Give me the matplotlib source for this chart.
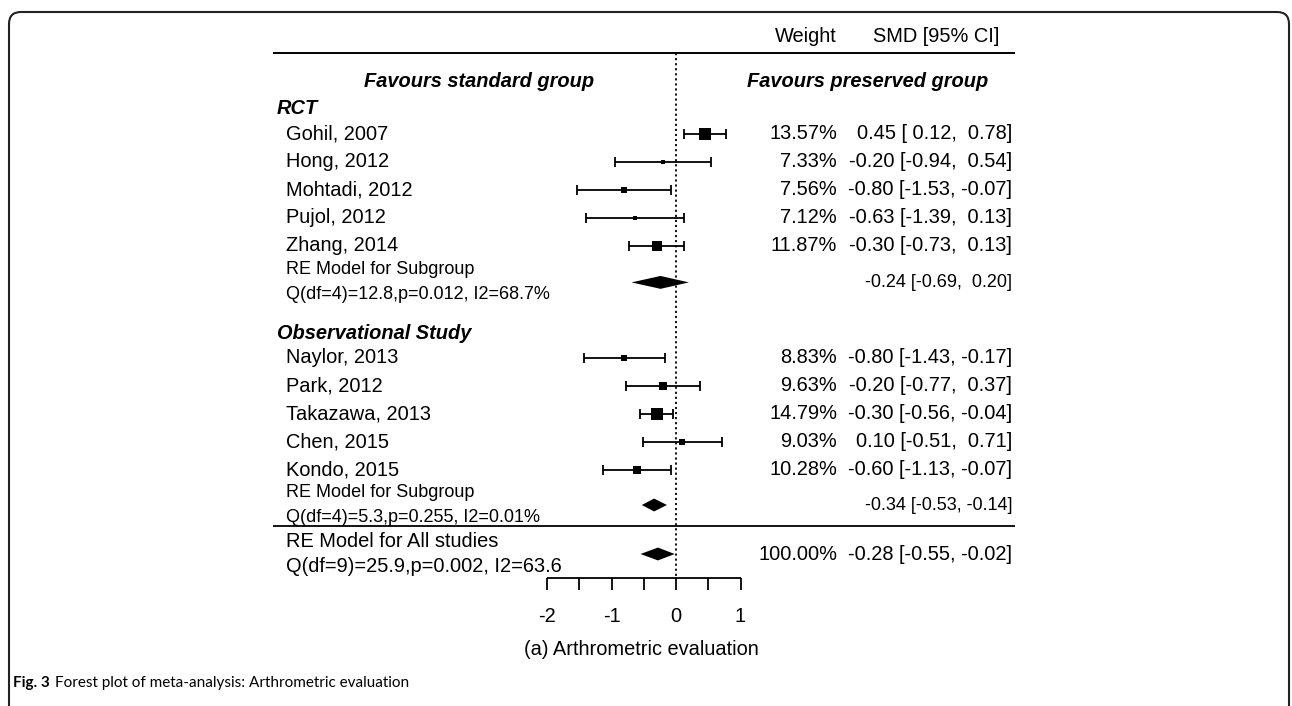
import matplotlib
matplotlib.use("Agg")
import matplotlib.pyplot as plt
from matplotlib.patches import FancyBboxPatch, Polygon

# ---------------- data ----------------
rct_studies = ["Gohil, 2007", "Hong, 2012", "Mohtadi, 2012", "Pujol, 2012", "Zhang, 2014"]
rct_smd = [0.45, -0.20, -0.80, -0.63, -0.30]
rct_lo = [0.12, -0.94, -1.53, -1.39, -0.73]
rct_hi = [0.78, 0.54, -0.07, 0.13, 0.13]
rct_w = [13.57, 7.33, 7.56, 7.12, 11.87]

obs_studies = ["Naylor, 2013", "Park, 2012", "Takazawa, 2013", "Chen, 2015", "Kondo, 2015"]
obs_smd = [-0.80, -0.20, -0.30, 0.10, -0.60]
obs_lo = [-1.43, -0.77, -0.56, -0.51, -1.13]
obs_hi = [-0.17, 0.37, -0.04, 0.71, -0.07]
obs_w = [8.83, 9.63, 14.79, 9.03, 10.28]

group_names = ["RCT", "Observational Study"]
sub_est = [-0.24, -0.34]
sub_lo = [-0.69, -0.53]
sub_hi = [0.20, -0.14]
sub_het = ["Q(df=4)=12.8,p=0.012, I2=68.7%", "Q(df=4)=5.3,p=0.255, I2=0.01%"]

all_est = -0.28
all_lo = -0.55
all_hi = -0.02
all_w = 100.00
all_het = "Q(df=9)=25.9,p=0.002, I2=63.6"

xticks = [-2, -1.5, -1, -0.5, 0, 0.5, 1]
xticklabels = ["-2", "", "-1", "", "0", "", "1"]

# ---------------- layout ----------------
W, H = 1292, 706
ZERO, SCALE = 676.0, 64.5      # pixel of SMD=0, pixels per SMD unit
ROW0, ROWH = 134.0, 28.0       # pixel of first row, pixels per row

fig = plt.figure(figsize=(W / 100, H / 100), dpi=100)
ax = fig.add_axes([0, 0, 1, 1])
ax.set_xlim(-ZERO / SCALE, (W - ZERO) / SCALE)
ax.set_ylim((H - ROW0) / ROWH, -ROW0 / ROWH)
ax.axis("off")


def px(x):
    return (x - ZERO) / SCALE


def py(y):
    return (y - ROW0) / ROWH


FONT = "Liberation Sans"
FS = 14.4
FS_SMALL = 13.0
LEFT_X = px(286)
W_RIGHT = px(837)
CI_RIGHT = px(1012)
LINE_L, LINE_R = px(273), px(1015)

rct_rows = [0, 1, 2, 3, 4]
obs_rows = [8, 9, 10, 11, 12]
sub_rows = [5.3, 13.25]
hdr_rows = [py(109), py(334)]
all_row = 15.0
sep_row = 14.0
axis_row = 15.85
top_line_row = py(53)
sub_off = 12.5 / ROWH


def fmt_ci(e, l, h):
    def f(v):
        s = f"{v:.2f}"
        return s if v < 0 else " " + s
    return f"{e:.2f} [{f(l)}, {f(h)}]"


def side_px(w):
    return max(5.0, 1.1 * (w - 3.0))


# header
ax.hlines(top_line_row, LINE_L, LINE_R, color="black", lw=1.4)
ax.text(px(806), py(37), "Weight", ha="center", va="center", fontsize=FS, family=FONT)
ax.text(px(873), py(37), "SMD [95% CI]", ha="left", va="center", fontsize=FS, family=FONT)
ax.text(px(479), py(82), "Favours standard group", ha="center", va="center",
        fontsize=FS, family=FONT, fontweight="bold", fontstyle="italic")
ax.text(px(747), py(82), "Favours preserved group", ha="left", va="center",
        fontsize=FS, family=FONT, fontweight="bold", fontstyle="italic")

# zero line
ax.vlines(0, top_line_row, axis_row, color="black", lw=1.3, linestyles=(0, (1.2, 1.6)))

groups = [
    (rct_studies, rct_smd, rct_lo, rct_hi, rct_w, rct_rows),
    (obs_studies, obs_smd, obs_lo, obs_hi, obs_w, obs_rows),
]
cap = 0.17
for gi, (names, est, lo, hi, wts, rows) in enumerate(groups):
    ax.text(px(277), hdr_rows[gi], group_names[gi], ha="left", va="center", fontsize=FS,
            family=FONT, fontweight="bold", fontstyle="italic")
    for n, e, l, h, w, r in zip(names, est, lo, hi, wts, rows):
        ax.hlines(r, l, h, color="black", lw=1.3)
        ax.vlines([l, h], r - cap, r + cap, color="black", lw=1.3)
        ax.plot([e], [r], marker="s", color="black", ms=side_px(w) * 0.72, mew=0)
        ax.text(LEFT_X, r, n, ha="left", va="center", fontsize=FS, family=FONT)
        ax.text(W_RIGHT, r, f"{w:.2f}%", ha="right", va="center", fontsize=FS, family=FONT)
        ax.text(CI_RIGHT, r, fmt_ci(e, l, h), ha="right", va="center", fontsize=FS, family=FONT)
    # subgroup summary
    sr = sub_rows[gi]
    dh = 0.23
    ax.add_patch(Polygon([(sub_lo[gi], sr), (sub_est[gi], sr - dh), (sub_hi[gi], sr),
                          (sub_est[gi], sr + dh)], closed=True, color="black", lw=0))
    ax.text(LEFT_X, sr - sub_off, "RE Model for Subgroup", ha="left", va="center",
            fontsize=FS_SMALL, family=FONT)
    ax.text(LEFT_X, sr + sub_off, sub_het[gi], ha="left", va="center",
            fontsize=FS_SMALL, family=FONT)
    ax.text(CI_RIGHT, sr, fmt_ci(sub_est[gi], sub_lo[gi], sub_hi[gi]), ha="right",
            va="center", fontsize=FS_SMALL, family=FONT)

# overall
ax.hlines(sep_row, LINE_L, LINE_R, color="black", lw=1.3)
dh = 0.23
ax.add_patch(Polygon([(all_lo, all_row), (all_est, all_row - dh), (all_hi, all_row),
                      (all_est, all_row + dh)], closed=True, color="black", lw=0))
ax.text(LEFT_X, all_row - 0.43, "RE Model for All studies", ha="left", va="center",
        fontsize=FS, family=FONT)
ax.text(LEFT_X, all_row + 0.45, all_het, ha="left", va="center", fontsize=FS, family=FONT)
ax.text(W_RIGHT, all_row, f"{all_w:.2f}%", ha="right", va="center", fontsize=FS, family=FONT)
ax.text(CI_RIGHT, all_row, fmt_ci(all_est, all_lo, all_hi), ha="right", va="center",
        fontsize=FS, family=FONT)

# x axis
ax.hlines(axis_row, xticks[0], xticks[-1], color="black", lw=1.3)
ax.vlines(xticks, axis_row, axis_row + 0.45, color="black", lw=1.3)
for t, lab in zip(xticks, xticklabels):
    if lab:
        ax.text(t, py(617), lab, ha="center", va="center", fontsize=FS, family=FONT)
ax.text(px(641), py(650), "(a) Arthrometric evaluation", ha="center", va="center",
        fontsize=FS, family=FONT)

# outer frame (open at the bottom)
frame = FancyBboxPatch((9, -40), W - 9 - 3, H - 12 + 40,
                       boxstyle="round,pad=0,rounding_size=12",
                       transform=None, fill=False, ec="#222222", lw=1.5)
fig.patches.append(frame)

# caption
cap_y = 1 - 683 / H
t1 = fig.text(13 / W, cap_y, "Fig. 3", ha="left", va="center", fontsize=11,
              family="Lato", fontweight="bold")
fig.canvas.draw()
bb = t1.get_window_extent()
fig.text((bb.x1 + 5) / W, cap_y, "Forest plot of meta-analysis: Arthrometric evaluation",
         ha="left", va="center", fontsize=11, family="Lato")

fig.savefig("out.png", dpi=100)
